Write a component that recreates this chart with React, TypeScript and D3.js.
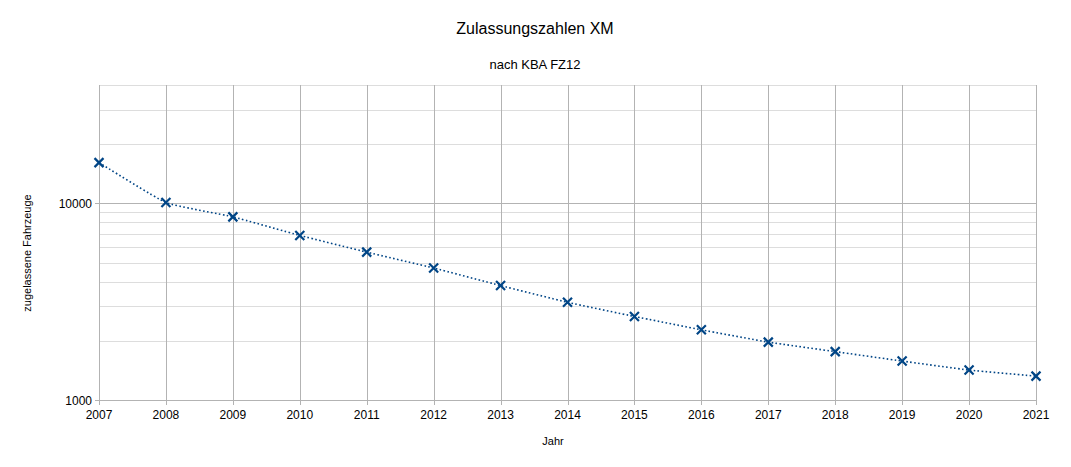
import React, { useEffect, useRef } from 'react';
import * as d3 from 'd3';

const years = [2007, 2008, 2009, 2010, 2011, 2012, 2013, 2014, 2015, 2016, 2017, 2018, 2019, 2020, 2021];
const counts = [16120, 10100, 8540, 6870, 5650, 4690, 3820, 3140, 2660, 2275, 1970, 1762, 1578, 1420, 1323];
const majorTicks = [1000, 10000];
const minorTicks = [2000, 3000, 4000, 5000, 6000, 7000, 8000, 9000, 20000, 30000];

const W = 1071;
const H = 467;
const FONT = '"Liberation Sans", Arial, sans-serif';
const BLUE = '#004586';

const App: React.FC = () => {
  const svgRef = useRef<SVGSVGElement>(null);

  useEffect(() => {
    if (!svgRef.current) return;
    const svg = d3.select(svgRef.current);
    svg.selectAll('*').remove();

    const left = 99, right = 1036, top = 85, bottom = 400;

    const x = d3.scaleLinear().domain([2007, 2021]).range([left, right]);
    const y = d3.scaleLog().domain([1000, 40000]).range([bottom, top]);

    // minor horizontal grid
    svg.append('g')
      .selectAll('line')
      .data(minorTicks)
      .join('line')
      .attr('x1', left).attr('x2', right)
      .attr('y1', d => Math.round(y(d)) + 0.5).attr('y2', d => Math.round(y(d)) + 0.5)
      .attr('stroke', '#dddddd');

    // top edge line
    svg.append('line')
      .attr('x1', left).attr('x2', right)
      .attr('y1', top + 0.5).attr('y2', top + 0.5)
      .attr('stroke', '#dddddd');

    // major horizontal grid, with small tick to the left
    svg.append('g')
      .selectAll('line')
      .data(majorTicks)
      .join('line')
      .attr('x1', left - 4).attr('x2', right)
      .attr('y1', d => Math.round(y(d)) + 0.5).attr('y2', d => Math.round(y(d)) + 0.5)
      .attr('stroke', '#b3b3b3');

    // vertical grid
    svg.append('g')
      .selectAll('line')
      .data(years)
      .join('line')
      .attr('x1', d => Math.round(x(d)) + 0.5).attr('x2', d => Math.round(x(d)) + 0.5)
      .attr('y1', top).attr('y2', bottom + 5)
      .attr('stroke', '#b3b3b3');

    // x tick labels
    svg.append('g')
      .selectAll('text')
      .data(years)
      .join('text')
      .attr('x', d => x(d))
      .attr('y', 419)
      .attr('text-anchor', 'middle')
      .attr('font-family', FONT)
      .attr('font-size', 12)
      .attr('fill', '#000')
      .text(d => String(d));

    // y tick labels
    svg.append('g')
      .selectAll('text')
      .data(majorTicks)
      .join('text')
      .attr('x', 92)
      .attr('y', d => y(d) + 4.5)
      .attr('text-anchor', 'end')
      .attr('font-family', FONT)
      .attr('font-size', 12)
      .attr('fill', '#000')
      .text(d => String(d));

    const pts: [number, number][] = years.map((yr, i) => [x(yr), y(counts[i])]);

    const line = d3.line<[number, number]>()
      .x(d => d[0])
      .y(d => d[1])
      .curve(d3.curveCardinal.tension(0.6));

    svg.append('path')
      .attr('d', line(pts))
      .attr('fill', 'none')
      .attr('stroke', BLUE)
      .attr('stroke-width', 1.6)
      .attr('stroke-dasharray', '1.6,2.4');

    const s = 4.5;
    const marks = svg.append('g');
    pts.forEach(([px, py]) => {
      marks.append('path')
        .attr('d', `M${px - s},${py - s}L${px + s},${py + s}M${px - s},${py + s}L${px + s},${py - s}`)
        .attr('stroke', BLUE)
        .attr('stroke-width', 2.2)
        .attr('fill', 'none');
    });

    // titles
    svg.append('text')
      .attr('x', 535).attr('y', 34)
      .attr('text-anchor', 'middle')
      .attr('font-family', FONT)
      .attr('font-size', 16)
      .text('Zulassungszahlen XM');

    svg.append('text')
      .attr('x', 535).attr('y', 69)
      .attr('text-anchor', 'middle')
      .attr('font-family', FONT)
      .attr('font-size', 13)
      .text('nach KBA FZ12');

    svg.append('text')
      .attr('x', 553).attr('y', 445)
      .attr('text-anchor', 'middle')
      .attr('font-family', FONT)
      .attr('font-size', 11)
      .text('Jahr');

    svg.append('text')
      .attr('transform', `translate(31, 253) rotate(-90)`)
      .attr('text-anchor', 'middle')
      .attr('font-family', FONT)
      .attr('font-size', 11)
      .text('zugelassene Fahrzeuge');
  }, []);

  return (
    <svg
      ref={svgRef}
      width={W}
      height={H}
      style={{ position: 'absolute', left: 0, top: 0, background: '#fff' }}
    />
  );
};

export default App;
